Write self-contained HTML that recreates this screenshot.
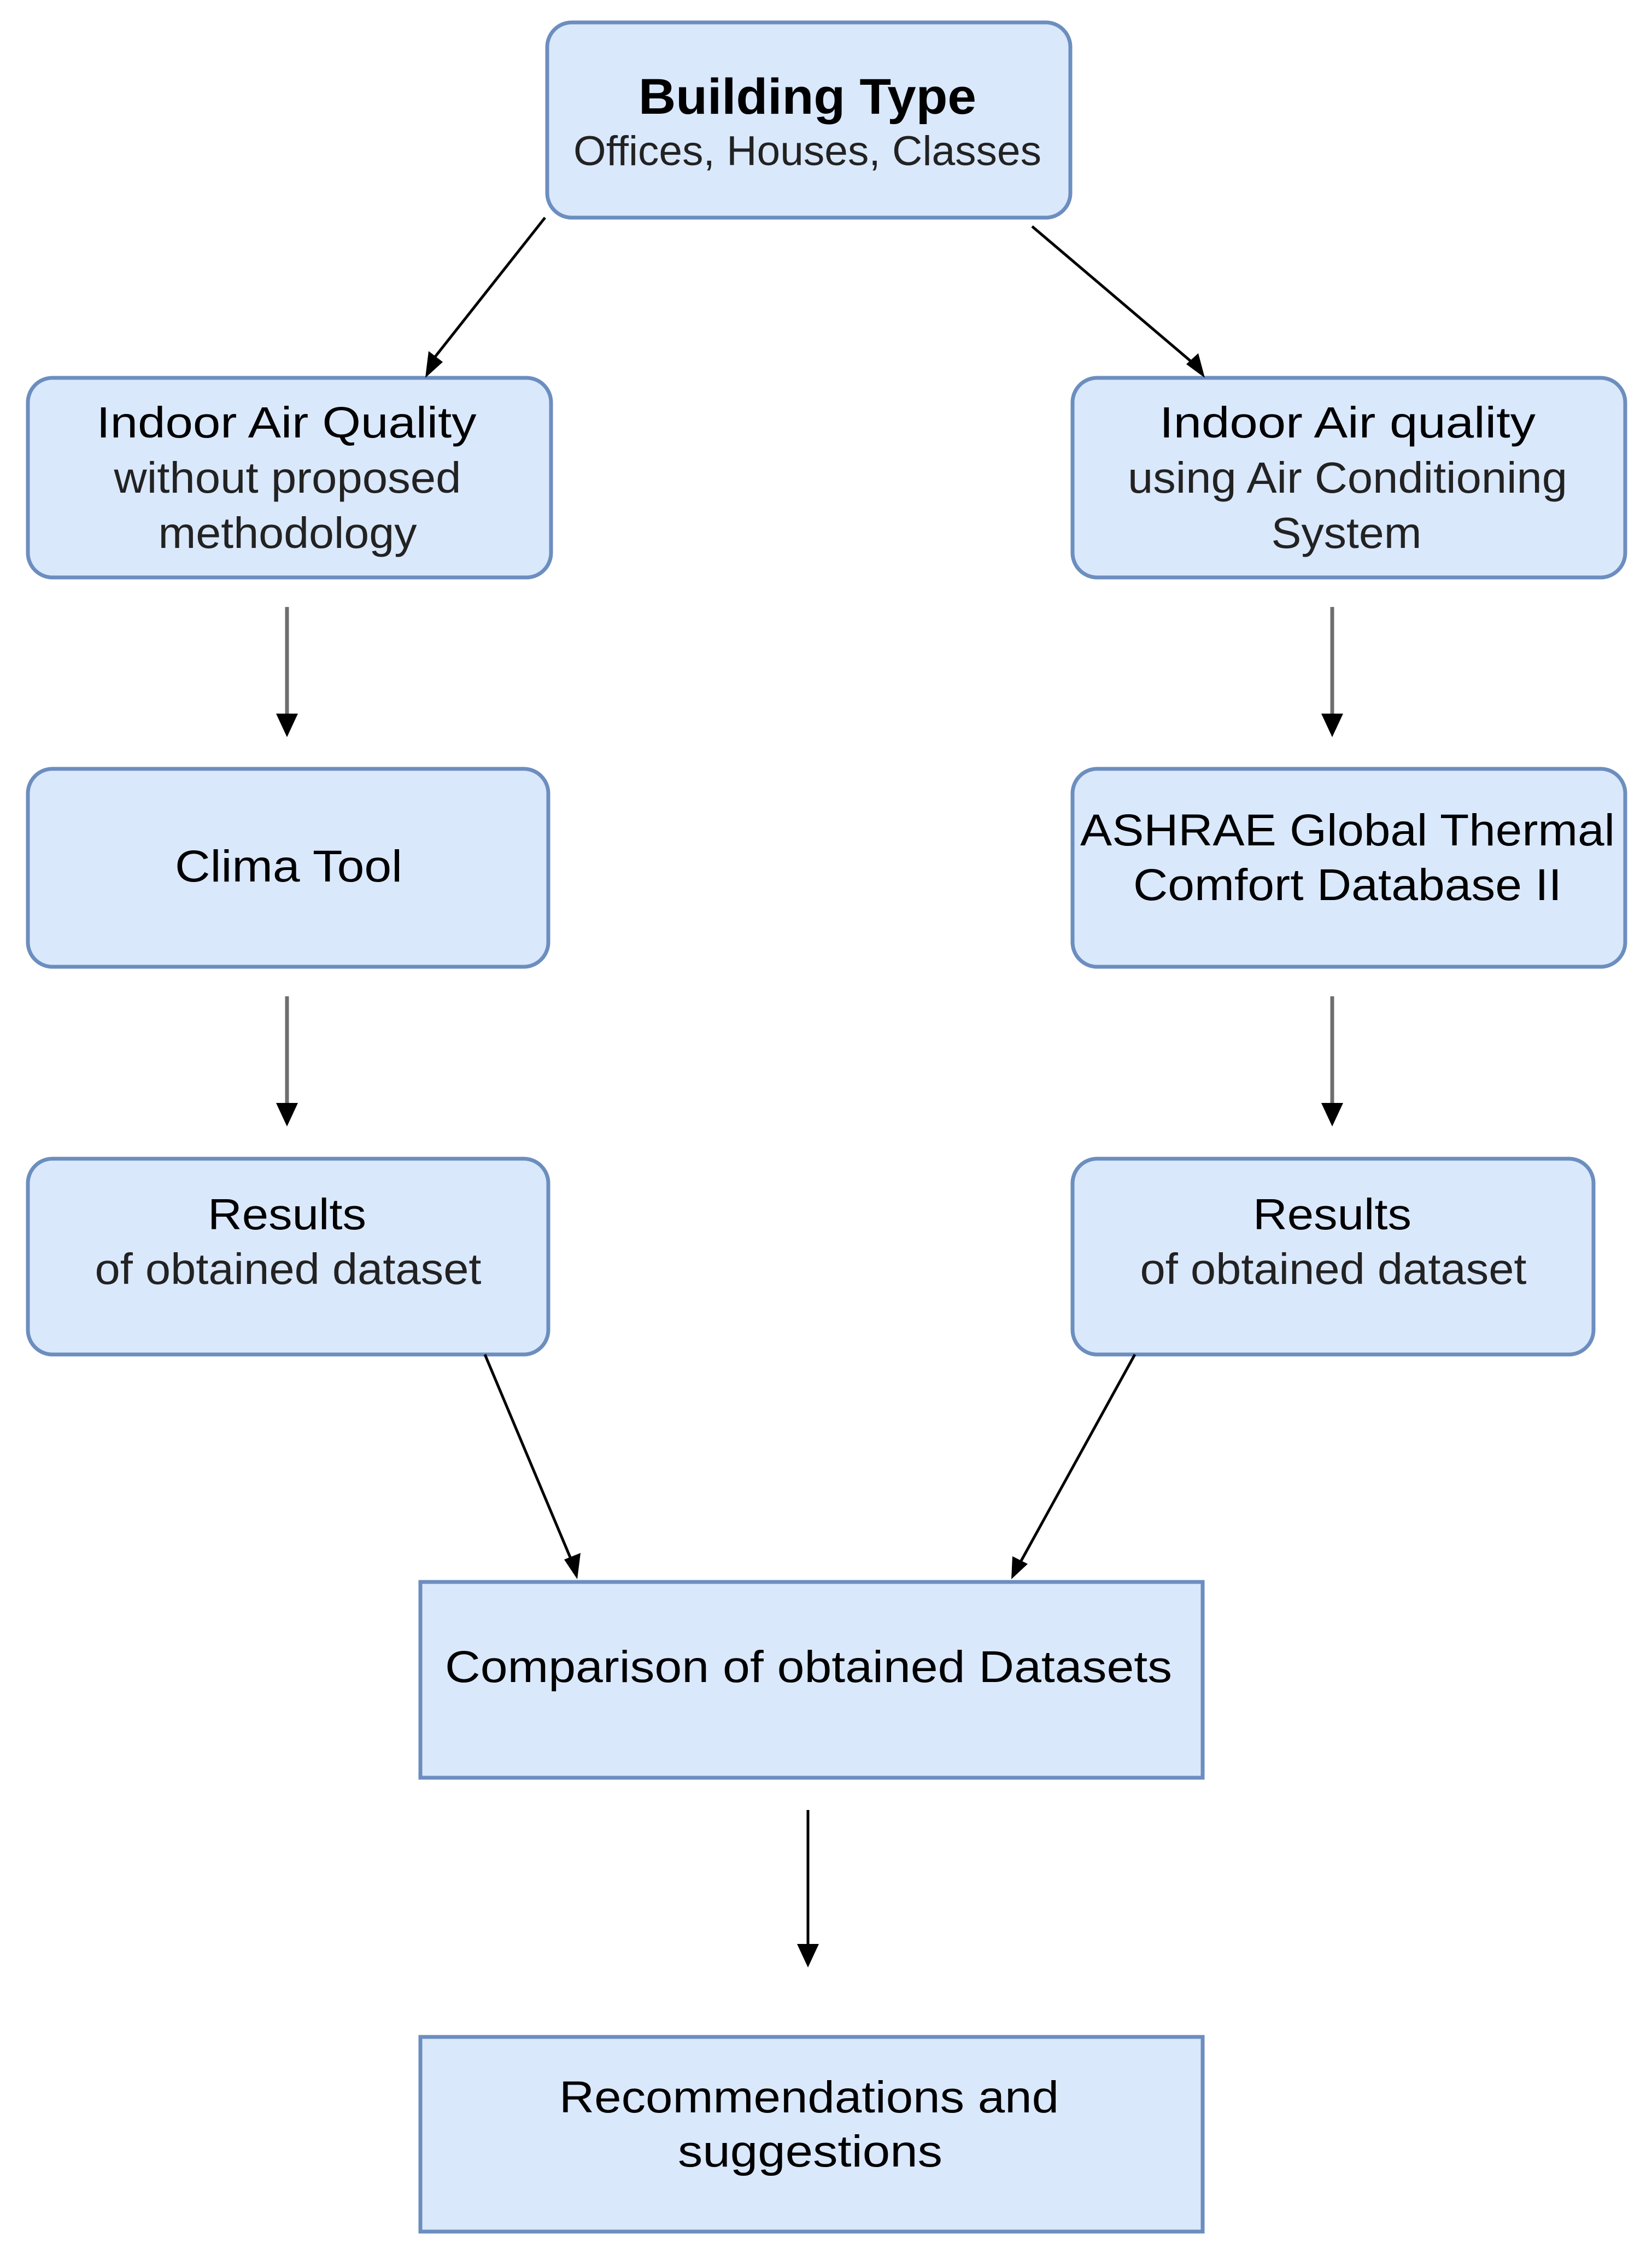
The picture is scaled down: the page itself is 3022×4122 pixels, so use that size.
<!DOCTYPE html>
<html><head><meta charset="utf-8"><style>
html,body{margin:0;padding:0;background:#fff;}
svg{display:block;}
text{font-family:"Liberation Sans",sans-serif;}
</style></head><body>
<svg width="3022" height="4122" viewBox="0 0 3022 4122" xmlns="http://www.w3.org/2000/svg">
<defs>
<marker id="a" markerWidth="10" markerHeight="10" refX="9" refY="5" orient="auto" markerUnits="userSpaceOnUse" viewBox="0 0 10 10" style="overflow:visible">
</marker>
</defs>
<rect width="3022" height="4122" fill="#fff"/>
<g fill="#dae8fc" stroke="#6c8ebf" stroke-width="7">
<rect x="1001" y="41" width="957" height="357" rx="45"/>
<rect x="51" y="691" width="957" height="365" rx="45"/>
<rect x="1962" y="691" width="1011" height="365" rx="45"/>
<rect x="51" y="1406" width="952" height="362" rx="45"/>
<rect x="1962" y="1406" width="1011" height="362" rx="45"/>
<rect x="51" y="2119" width="952" height="358" rx="45"/>
<rect x="1962" y="2119" width="953" height="358" rx="45"/>
<rect x="769" y="2893" width="1431" height="358"/>
<rect x="769" y="3725" width="1431" height="356"/>
</g>
<!-- connectors -->
<g stroke="#000" stroke-width="5" fill="none">
<line x1="997" y1="398" x2="790" y2="660"/>
<line x1="1888" y1="414" x2="2180" y2="662"/>
<line x1="887" y1="2477" x2="1046" y2="2855"/>
<line x1="2076" y1="2477" x2="1866" y2="2858"/>
<line x1="1478" y1="3310" x2="1478" y2="3565"/>
</g>
<g stroke="#6e6e6e" stroke-width="7" fill="none">
<line x1="525" y1="1110" x2="525" y2="1315"/>
<line x1="2437" y1="1110" x2="2437" y2="1315"/>
<line x1="525" y1="1822" x2="525" y2="2025"/>
<line x1="2437" y1="1822" x2="2437" y2="2025"/>
</g>
<g fill="#000">
<!-- vertical arrowheads -->
<polygon points="508,1305 542,1305 525,1345 525,1325"/>
<polygon points="505,1305 545,1305 525,1348"/>
<polygon points="2417,1305 2457,1305 2437,1348"/>
<polygon points="505,2017 545,2017 525,2060"/>
<polygon points="2417,2017 2457,2017 2437,2060"/>
<polygon points="1458,3555 1498,3555 1478,3598"/>
<!-- diagonal arrowheads -->
<polygon points="778,691 784,642 810,662"/>
<polygon points="2204,691 2170,666 2192,646"/>
<polygon points="1056,2888 1032,2852 1062,2840"/>
<polygon points="1850,2888 1852,2846 1880,2860"/>
</g>
<!-- texts -->
<g text-anchor="middle">
<text x="1477" y="208" font-size="92" font-weight="bold" fill="#000" textLength="618" lengthAdjust="spacingAndGlyphs">Building Type</text>
<text x="1477" y="302" font-size="76" fill="#222" textLength="856" lengthAdjust="spacingAndGlyphs">Offices, Houses, Classes</text>

<text x="524" y="800" font-size="80" fill="#000" textLength="695" lengthAdjust="spacingAndGlyphs">Indoor Air Quality</text>
<text x="526" y="901" font-size="80" fill="#222" textLength="635" lengthAdjust="spacingAndGlyphs">without proposed</text>
<text x="526" y="1002" font-size="80" fill="#222" textLength="473" lengthAdjust="spacingAndGlyphs">methodology</text>

<text x="2465" y="800" font-size="80" fill="#000" textLength="688" lengthAdjust="spacingAndGlyphs">Indoor Air quality</text>
<text x="2465" y="901" font-size="80" fill="#222" textLength="804" lengthAdjust="spacingAndGlyphs">using Air Conditioning</text>
<text x="2463" y="1002" font-size="80" fill="#222" textLength="275" lengthAdjust="spacingAndGlyphs">System</text>

<text x="528" y="1612" font-size="82" fill="#000" textLength="416" lengthAdjust="spacingAndGlyphs">Clima Tool</text>

<text x="2465" y="1546" font-size="82" fill="#000" textLength="978" lengthAdjust="spacingAndGlyphs">ASHRAE Global Thermal</text>
<text x="2465" y="1646" font-size="82" fill="#000" textLength="784" lengthAdjust="spacingAndGlyphs">Comfort Database II</text>

<text x="525" y="2248" font-size="80" fill="#000" textLength="290" lengthAdjust="spacingAndGlyphs">Results</text>
<text x="527" y="2348" font-size="80" fill="#222" textLength="707" lengthAdjust="spacingAndGlyphs">of obtained dataset</text>
<text x="2437" y="2248" font-size="80" fill="#000" textLength="290" lengthAdjust="spacingAndGlyphs">Results</text>
<text x="2439" y="2348" font-size="80" fill="#222" textLength="707" lengthAdjust="spacingAndGlyphs">of obtained dataset</text>

<text x="1479" y="3076" font-size="82" fill="#000" textLength="1330" lengthAdjust="spacingAndGlyphs">Comparison of obtained Datasets</text>

<text x="1480" y="3863" font-size="82" fill="#000" textLength="914" lengthAdjust="spacingAndGlyphs">Recommendations and</text>
<text x="1482" y="3962" font-size="82" fill="#000" textLength="484" lengthAdjust="spacingAndGlyphs">suggestions</text>
</g>
</svg>
</body></html>
